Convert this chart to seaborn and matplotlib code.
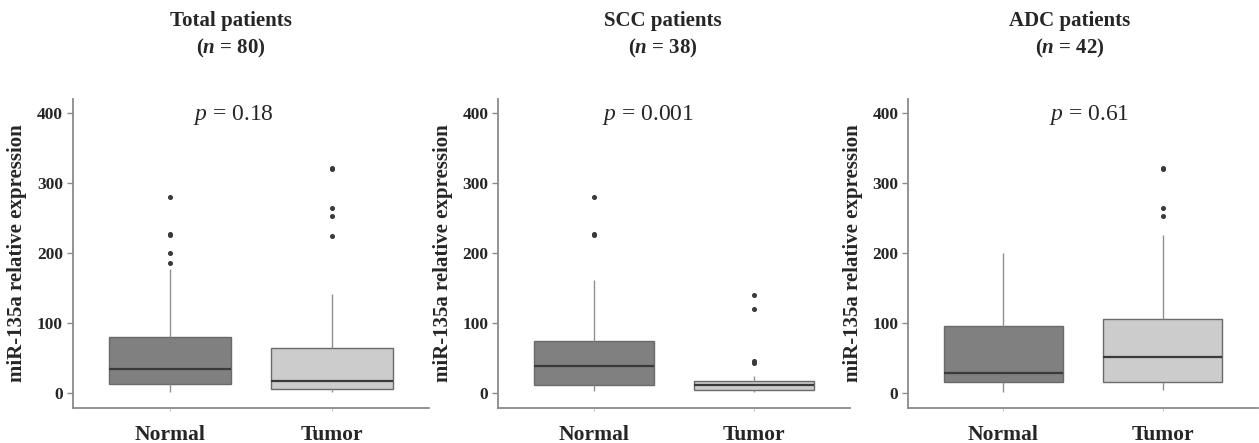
import numpy as np
import pandas as pd
import matplotlib
matplotlib.use("Agg")
import matplotlib.pyplot as plt
import seaborn as sns

# ---- data (box statistics per panel/group) ----
panels = ["Total patients", "SCC patients", "ADC patients"]
n_values = [80, 38, 42]
p_values = ["0.18", "0.001", "0.61"]
groups = ["Normal", "Tumor"]

# [whisker low, Q1, median, Q3, whisker high]
total_normal = [1.5, 13.5, 34, 80, 177]
total_tumor = [1.5, 6.5, 17, 65, 142]
scc_normal = [3, 12, 39.5, 75, 162]
scc_tumor = [2, 4.5, 11.5, 18, 24]
adc_normal = [2.5, 15.5, 29.5, 96.5, 200]
adc_tumor = [4.5, 15.5, 52, 105.5, 226]

total_normal_out = [186, 200, 226, 228, 280]
total_tumor_out = [225, 253, 265, 320, 322]
scc_normal_out = [226, 228, 280]
scc_tumor_out = [43, 46, 120, 140]
adc_normal_out = []
adc_tumor_out = [253, 265, 320, 322]

stats = [
    (total_normal, total_normal_out, total_tumor, total_tumor_out),
    (scc_normal, scc_normal_out, scc_tumor, scc_tumor_out),
    (adc_normal, adc_normal_out, adc_tumor, adc_tumor_out),
]
p_xpos = [0.39, 0.34, 0.54]


def frame_from_stats(box, out, label):
    lo, q1, med, q3, hi = box
    vals = [lo] + [q1] * 10 + [med] * 10 + [q3] * 10 + [hi] + list(out)
    return pd.DataFrame({"group": label, "value": vals})


sns.set_theme(style="white")
plt.rcParams["font.family"] = ["Liberation Serif", "DejaVu Serif"]
plt.rcParams["mathtext.fontset"] = "custom"
plt.rcParams["mathtext.rm"] = "Liberation Serif"
plt.rcParams["mathtext.it"] = "Liberation Serif:italic"
plt.rcParams["mathtext.bf"] = "Liberation Serif:bold"
plt.rcParams["mathtext.bfit"] = "Liberation Serif:italic:bold"

W, H = 1259, 443
fig = plt.figure(figsize=(W / 100, H / 100), dpi=100)

ax_px = [(72.7, 356.3), (498, 352), (908, 350)]
title_x = [231, 663, 1070]
bottom_px, top_px = 408, 99

spine_col = "#8a8a8a"
for i, (left, width) in enumerate(ax_px):
    ax = fig.add_axes([left / W, 1 - bottom_px / H, width / W, (bottom_px - top_px) / H])
    nb, no, tb, to = stats[i]
    df = pd.concat([frame_from_stats(nb, no, "Normal"), frame_from_stats(tb, to, "Tumor")],
                   ignore_index=True)
    sns.boxplot(data=df, x="group", y="value", hue="group", order=groups,
                palette={"Normal": "#808080", "Tumor": "#cccccc"},
                width=0.75, linecolor="#6a6a6a", linewidth=1.0, showcaps=False,
                whis=1.5, legend=False, ax=ax,
                medianprops={"color": "#3a3a3a", "linewidth": 1.6},
                whiskerprops={"color": "#909090", "linewidth": 1.0},
                flierprops={"marker": "o", "markersize": 2.6, "markerfacecolor": "#3a3a3a",
                            "markeredgecolor": "#3a3a3a"})
    ax.set_xlim(-0.6, 1.6)
    ax.set_ylim(-21, 420)
    ax.set_yticks([0, 100, 200, 300, 400])
    ax.set_xlabel("")
    ax.set_ylabel("miR-135a relative expression", fontsize=15, fontweight="bold", labelpad=7)
    for s in ["top", "right"]:
        ax.spines[s].set_visible(False)
    for s in ["left", "bottom"]:
        ax.spines[s].set_color(spine_col)
        ax.spines[s].set_linewidth(1.3)
    ax.tick_params(axis="y", which="both", left=True, length=4, width=1, color=spine_col,
                   labelsize=12.5, pad=3)
    ax.tick_params(axis="x", which="both", bottom=True, length=2.5, width=0.8, color="#c8c8c8",
                   labelsize=15.5, pad=10)
    for lab in ax.get_yticklabels() + ax.get_xticklabels():
        lab.set_fontweight("bold")
    ax.text(p_xpos[i], 397, r"$p$ = " + p_values[i], fontsize=17, ha="center", va="center")

    fig.text(title_x[i] / W, 1 - 21 / H, panels[i], fontsize=15, fontweight="bold",
             ha="center", va="center")
    fig.text(title_x[i] / W, 1 - 48 / H, r"($\mathbfit{n}$ = " + str(n_values[i]) + ")",
             fontsize=15, fontweight="bold", ha="center", va="center")

fig.savefig("out.png", dpi=100, facecolor="white")
